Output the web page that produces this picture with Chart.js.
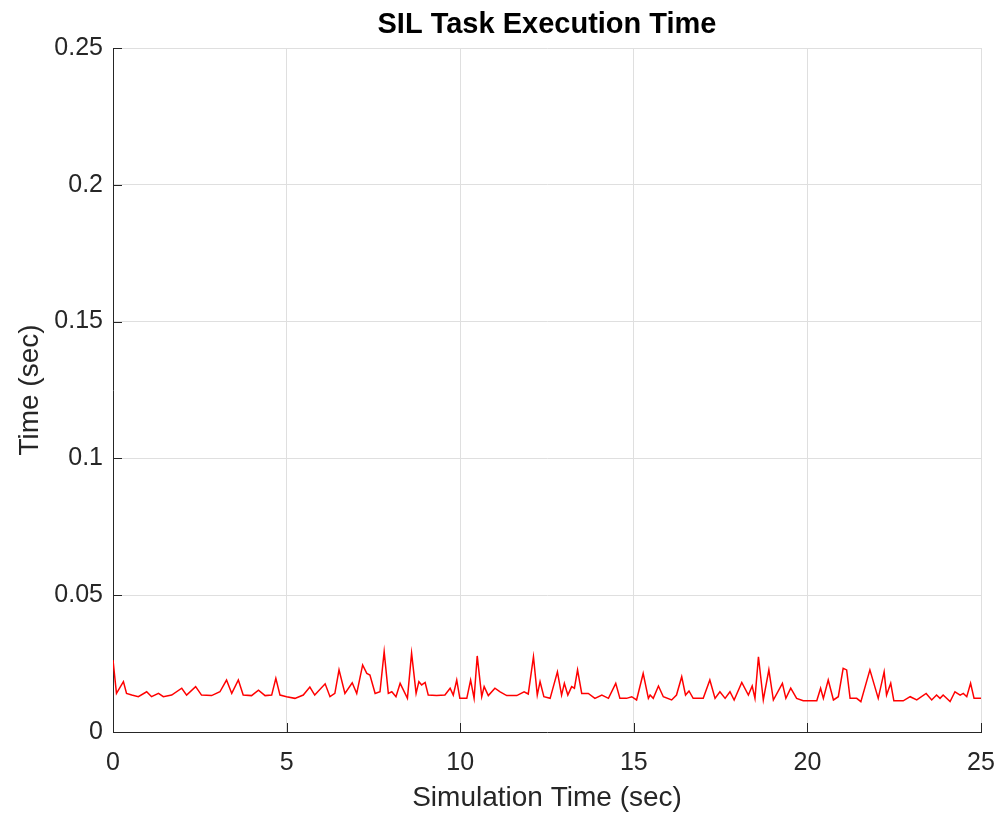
<!DOCTYPE html>
<html>
<head>
<meta charset="utf-8">
<script src="https://cdn.jsdelivr.net/npm/chart.js@4/dist/chart.umd.min.js"></script>
<style>
  html, body { margin: 0; padding: 0; background: #fff; }
  #wrap { width: 999px; height: 815px; }
</style>
</head>
<body>
<div id="wrap"><canvas id="grafico" width="999" height="815"></canvas></div>
<script>
// Simulation time (sec) and task execution time (sec)
const simTime = [0, 0.10, 0.30, 0.39, 0.54, 0.73, 0.97, 1.11, 1.31, 1.45, 1.69, 1.98, 2.12, 2.38, 2.55, 2.84,
  3.08, 3.27, 3.42, 3.61, 3.75, 3.99, 4.19, 4.38, 4.57, 4.69, 4.81, 5.00, 5.24, 5.48, 5.67, 5.81, 6.11, 6.25,
  6.39, 6.51, 6.68, 6.89, 7.02, 7.19, 7.31, 7.40, 7.55, 7.69, 7.81, 7.93, 8.03, 8.15, 8.27, 8.48, 8.60, 8.73,
  8.81, 8.89, 8.99, 9.08, 9.32, 9.56, 9.71, 9.80, 9.90, 9.99, 10.19, 10.30, 10.40, 10.49, 10.62, 10.69, 10.81,
  11.00, 11.15, 11.34, 11.63, 11.84, 11.96, 12.11, 12.22, 12.30, 12.41, 12.59, 12.80, 12.92, 13.00, 13.10,
  13.21, 13.29, 13.38, 13.50, 13.69, 13.88, 14.08, 14.27, 14.48, 14.60, 14.79, 14.94, 15.08, 15.27, 15.42,
  15.47, 15.56, 15.71, 15.85, 16.09, 16.23, 16.38, 16.49, 16.59, 16.71, 17.00, 17.19, 17.34, 17.48, 17.63,
  17.77, 17.89, 18.11, 18.30, 18.41, 18.49, 18.59, 18.73, 18.89, 19.02, 19.28, 19.38, 19.52, 19.69, 19.88,
  20.12, 20.27, 20.38, 20.46, 20.60, 20.75, 20.89, 21.03, 21.13, 21.23, 21.42, 21.54, 21.80, 22.04, 22.21,
  22.28, 22.40, 22.49, 22.76, 22.96, 23.15, 23.42, 23.58, 23.72, 23.82, 23.91, 24.11, 24.25, 24.40, 24.49,
  24.59, 24.70, 24.80, 25.00];

const execTime = [0.0263, 0.0141, 0.0184, 0.0141, 0.0135, 0.0129, 0.0147, 0.0129, 0.0141, 0.0129, 0.0135, 0.0160,
  0.0135, 0.0166, 0.0135, 0.0133, 0.0147, 0.0190, 0.0141, 0.0190, 0.0135, 0.0133, 0.0153, 0.0133, 0.0135,
  0.0196, 0.0135, 0.0129, 0.0123, 0.0135, 0.0164, 0.0135, 0.0176, 0.0129, 0.0141, 0.0227, 0.0141, 0.0180,
  0.0141, 0.0245, 0.0214, 0.0208, 0.0141, 0.0147, 0.0294, 0.0141, 0.0147, 0.0129, 0.0178, 0.0123, 0.0288,
  0.0141, 0.0184, 0.0172, 0.0181, 0.0135, 0.0133, 0.0135, 0.0160, 0.0135, 0.0190, 0.0123, 0.0123, 0.0190,
  0.0123, 0.0278, 0.0129, 0.0166, 0.0133, 0.0160, 0.0147, 0.0133, 0.0133, 0.0147, 0.0139, 0.0275, 0.0135,
  0.0184, 0.0129, 0.0123, 0.0220, 0.0135, 0.0178, 0.0135, 0.0166, 0.0160, 0.0227, 0.0141, 0.0141, 0.0123,
  0.0135, 0.0123, 0.0178, 0.0123, 0.0123, 0.0129, 0.0117, 0.0214, 0.0123, 0.0135, 0.0123, 0.0168, 0.0129,
  0.0117, 0.0135, 0.0202, 0.0135, 0.0150, 0.0123, 0.0123, 0.0190, 0.0123, 0.0147, 0.0123, 0.0147, 0.0117,
  0.0181, 0.0135, 0.0168, 0.0123, 0.0275, 0.0117, 0.0227, 0.0117, 0.0178, 0.0123, 0.0160, 0.0123, 0.0114,
  0.0114, 0.0114, 0.0160, 0.0123, 0.0190, 0.0117, 0.0129, 0.0233, 0.0227, 0.0123, 0.0123, 0.0111, 0.0227,
  0.0123, 0.0220, 0.0135, 0.0178, 0.0114, 0.0114, 0.0129, 0.0117, 0.0141, 0.0117, 0.0135, 0.0123, 0.0135,
  0.0111, 0.0147, 0.0135, 0.0141, 0.0129, 0.0178, 0.0123, 0.0123];

const xTicks = [0, 5, 10, 15, 20, 25];
const yTicks = [0, 0.05, 0.1, 0.15, 0.2, 0.25];

const axisColor = '#262626';
const gridColor = '#dfdfdf';
const fontFam = '"Liberation Sans", Arial, Helvetica, sans-serif';

// Ticks hacia adentro, como en MATLAB
const innerTicks = {
  id: 'innerTicks',
  afterDraw(chart) {
    const { ctx, chartArea, scales } = chart;
    ctx.save();
    ctx.strokeStyle = axisColor;
    ctx.lineWidth = 1;
    ctx.beginPath();
    xTicks.forEach(v => {
      const px = Math.round(scales.x.getPixelForValue(v)) + 0.5;
      ctx.moveTo(px, chartArea.bottom);
      ctx.lineTo(px, chartArea.bottom - 9);
    });
    yTicks.forEach(v => {
      const py = Math.round(scales.y.getPixelForValue(v)) + 0.5;
      ctx.moveTo(chartArea.left, py);
      ctx.lineTo(chartArea.left + 9, py);
    });
    ctx.stroke();
    ctx.restore();
  }
};

const points = simTime.map((t, i) => ({ x: t, y: execTime[i] }));

const ctx = document.querySelector('#grafico').getContext('2d');
new Chart(ctx, {
  type: 'line',
  data: {
    datasets: [{
      label: 'Execution Time',
      data: points,
      borderColor: '#ff0000',
      borderWidth: 1.5,
      pointRadius: 0,
      tension: 0,
      fill: false
    }]
  },
  options: {
    responsive: false,
    animation: false,
    layout: { padding: { top: 0, right: 18, bottom: 0, left: 0 } },
    plugins: {
      legend: { display: false },
      tooltip: { enabled: false },
      title: {
        display: true,
        text: 'SIL Task Execution Time',
        fullSize: false,
        color: '#000',
        font: { family: fontFam, size: 29, weight: 'bold' },
        padding: { top: 8, bottom: 5.2 }
      }
    },
    scales: {
      x: {
        type: 'linear',
        min: 0,
        max: 25,
        afterFit: s => { s.height = 83; s.paddingLeft = 0; s.paddingRight = 0; },
        afterBuildTicks: s => { s.ticks = xTicks.map(v => ({ value: v })); },
        ticks: {
          color: axisColor,
          font: { family: fontFam, size: 25 },
          padding: 16,
          maxRotation: 0
        },
        grid: { color: gridColor, drawTicks: false },
        border: { color: axisColor, width: 1 },
        title: {
          display: true,
          text: 'Simulation Time (sec)',
          color: axisColor,
          font: { family: fontFam, size: 28 },
          padding: { top: 0, bottom: 0 }
        }
      },
      y: {
        type: 'linear',
        min: 0,
        max: 0.25,
        afterFit: s => { s.width = 113; },
        afterBuildTicks: s => { s.ticks = yTicks.map(v => ({ value: v })); },
        ticks: {
          color: axisColor,
          font: { family: fontFam, size: 25 },
          padding: 10,
          callback: v => String(Number(v.toFixed(2)))
        },
        grid: { color: gridColor, drawTicks: false },
        border: { color: axisColor, width: 1 },
        title: {
          display: true,
          text: 'Time (sec)',
          color: axisColor,
          font: { family: fontFam, size: 28 },
          padding: { top: 13, bottom: 0 }
        }
      }
    }
  },
  plugins: [innerTicks]
});
</script>
</body>
</html>
